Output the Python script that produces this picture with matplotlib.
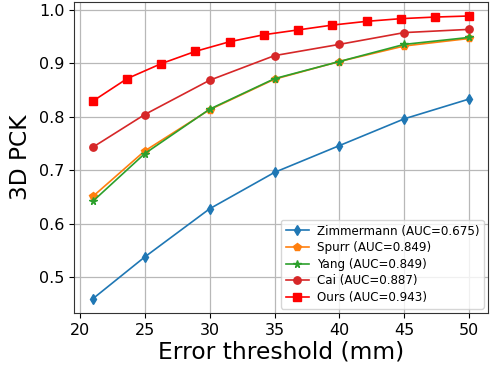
import matplotlib
matplotlib.use('Agg')
import matplotlib.pyplot as plt

# Values
thresholds = [21, 25, 30, 35, 40, 45, 50]
pck_zimmermann = [0.460, 0.538, 0.628, 0.696, 0.746, 0.796, 0.833]
pck_spurr = [0.651, 0.736, 0.813, 0.870, 0.903, 0.932, 0.946]
pck_yang = [0.642, 0.731, 0.814, 0.871, 0.903, 0.935, 0.948]
pck_cai = [0.743, 0.804, 0.868, 0.914, 0.935, 0.957, 0.963]

thresholds_ours = [21, 23.64, 26.27, 28.91, 31.55, 34.18, 36.82, 39.45, 42.09, 44.73, 47.36, 50]
pck_ours = [0.829, 0.871, 0.899, 0.922, 0.940, 0.953, 0.962, 0.971, 0.978, 0.983, 0.986, 0.988]

labels = ['Zimmermann (AUC=0.675)', 'Spurr (AUC=0.849)', 'Yang (AUC=0.849)',
          'Cai (AUC=0.887)', 'Ours (AUC=0.943)']

fig = plt.figure(figsize=(4.9, 3.69), dpi=100)
ax = fig.add_axes([0.151, 0.152, 0.845, 0.843])

ms = 5.3
lw = 1.2
ax.plot(thresholds, pck_zimmermann, marker='d', color='tab:blue', ms=ms, lw=lw, label=labels[0])
ax.plot(thresholds, pck_spurr, marker='p', color='tab:orange', ms=ms, lw=lw, label=labels[1])
ax.plot(thresholds, pck_yang, marker='*', color='tab:green', ms=ms, lw=lw, label=labels[2])
ax.plot(thresholds, pck_cai, marker='o', color='tab:red', ms=ms, lw=lw, label=labels[3])
ax.plot(thresholds_ours, pck_ours, marker='s', color='red', ms=ms, lw=lw, label=labels[4])

ax.set_xlabel('Error threshold (mm)', fontsize=16.8, labelpad=2)
ax.set_ylabel('3D PCK', fontsize=16.8, labelpad=5)
ax.set_xticks([20, 25, 30, 35, 40, 45, 50])
ax.set_yticks([0.5, 0.6, 0.7, 0.8, 0.9, 1.0])
ax.tick_params(labelsize=11.5)
ax.grid(True, color='#b8b8b8', linewidth=0.9)

for spine in ax.spines.values():
    spine.set_color('#333333')

ax.legend(loc='lower right', fontsize=8.6, framealpha=0.8, labelspacing=0.3,
          borderaxespad=0.35, handletextpad=0.6)

fig.savefig('out.png', dpi=100)
